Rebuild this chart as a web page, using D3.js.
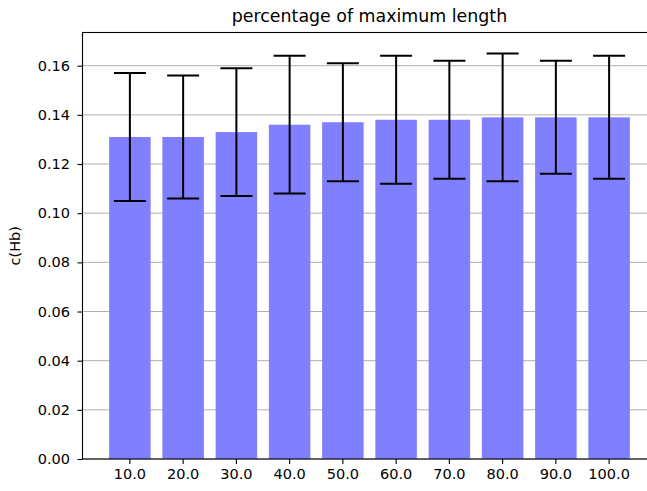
<!DOCTYPE html>
<html>
<head>
<meta charset="utf-8">
<script src="https://d3js.org/d3.v7.min.js"></script>
<style>
  body { margin: 0; background: #fff; }
  svg { display: block; font-family: "DejaVu Sans", sans-serif; }
</style>
</head>
<body>
<div class="viz"></div>
<script>
// chart data
var categories = ["10.0", "20.0", "30.0", "40.0", "50.0", "60.0", "70.0", "80.0", "90.0", "100.0"]
var means = [0.131, 0.131, 0.133, 0.136, 0.137, 0.138, 0.138, 0.139, 0.139, 0.139]
var errors = [0.026, 0.025, 0.026, 0.028, 0.024, 0.026, 0.024, 0.026, 0.023, 0.025]
var yTicks = [0, 0.02, 0.04, 0.06, 0.08, 0.10, 0.12, 0.14, 0.16]

// set the dimensions and margins of the graph
var W = 647, H = 491
var margin = {top: 32.5, left: 82.5},
    width = 574,
    height = 426.5

var svg = d3.select(".viz")
  .append("svg")
    .attr("width", W)
    .attr("height", H)

var g = svg.append("g")
    .attr("transform", "translate(" + margin.left + "," + margin.top + ")")

// band scale so that padding matches a 0.8-wide bar with 5% margins
var step = width / 10.78
var x = d3.scaleBand()
    .domain(categories)
    .range([0.89 * step - step / 2, 0.89 * step - step / 2 + 10 * step])
    .paddingInner(0.22)
    .paddingOuter(0.11)

var y = d3.scaleLinear()
    .domain([0, 0.1735])
    .range([height, 0])

// grid lines
g.append("g")
  .selectAll("line")
  .data(yTicks)
  .join("line")
    .attr("x1", 0)
    .attr("x2", width)
    .attr("y1", d => y(d))
    .attr("y2", d => y(d))
    .attr("stroke", "#b0b0b0")
    .attr("stroke-width", 1)

// bars
g.append("g")
  .selectAll("rect")
  .data(means)
  .join("rect")
    .attr("x", (d, i) => x(categories[i]))
    .attr("width", x.bandwidth())
    .attr("y", d => y(d))
    .attr("height", d => height - y(d))
    .attr("fill", "#8080ff")

// error bars
var eb = g.append("g").attr("stroke", "#000").attr("stroke-width", 2)
var cap = 16
means.forEach(function(m, i) {
    var cx = x(categories[i]) + x.bandwidth() / 2
    var lo = y(m - errors[i]), hi = y(m + errors[i])
    eb.append("line").attr("x1", cx).attr("x2", cx).attr("y1", lo).attr("y2", hi)
    eb.append("line").attr("x1", cx - cap).attr("x2", cx + cap).attr("y1", lo).attr("y2", lo)
    eb.append("line").attr("x1", cx - cap).attr("x2", cx + cap).attr("y1", hi).attr("y2", hi)
})

// axes
var yAxis = g.append("g")
    .call(d3.axisLeft(y).tickValues(yTicks).tickFormat(d3.format(".2f")).tickSizeOuter(0).tickSize(5).tickPadding(7.5))
var xAxis = g.append("g")
    .attr("transform", "translate(0," + height + ")")
    .call(d3.axisBottom(x).tickSizeOuter(0).tickSize(5).tickPadding(5))

;[yAxis, xAxis].forEach(function(a) {
    a.select(".domain").remove()
    a.selectAll("line").attr("stroke", "#000").attr("stroke-width", 1.1)
    a.selectAll("text")
        .attr("fill", "#000")
        .style("font-family", "DejaVu Sans")
        .style("font-size", "14.5px")
})

// spines
g.append("rect")
    .attr("x", 0)
    .attr("y", 0)
    .attr("width", width)
    .attr("height", height)
    .attr("fill", "none")
    .attr("stroke", "#000")
    .attr("stroke-width", 1.1)

// title
svg.append("text")
    .attr("x", margin.left + width / 2)
    .attr("y", 21.5)
    .attr("text-anchor", "middle")
    .style("font-size", "17.4px")
    .text("percentage of maximum length")

// y label
svg.append("text")
    .attr("transform", "translate(20," + (margin.top + height / 2) + ") rotate(-90)")
    .attr("text-anchor", "middle")
    .style("font-size", "14.5px")
    .text("c(Hb)")
</script>
</body>
</html>
